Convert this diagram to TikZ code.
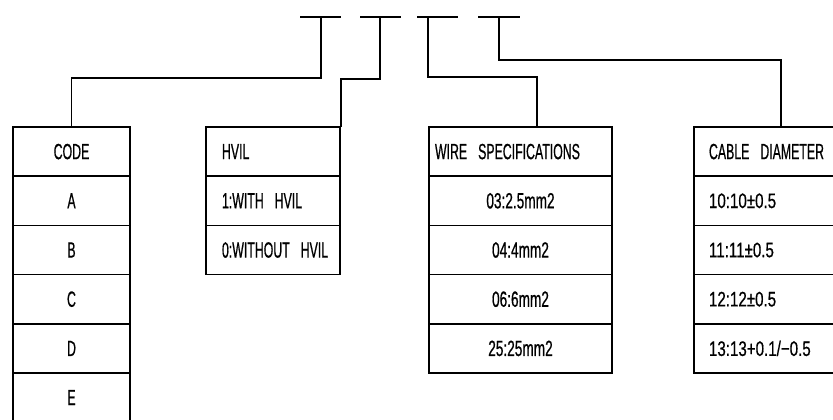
\documentclass[tikz,border=0pt]{standalone}
\usepackage{fontspec}
\setmainfont{Liberation Sans}[FakeStretch=0.56,FakeBold=0.6]
\newfontfamily\wirefont{Liberation Sans}[FakeStretch=0.62,FakeBold=0.6]
\newfontfamily\cablefont{Liberation Sans}[FakeStretch=0.72,FakeBold=0.6]
\begin{document}
\begin{tikzpicture}[x=1pt,y=-1pt,
  every node/.style={font=\fontsize{22}{24}\selectfont},
  ln/.style={line width=1.7pt,line cap=rect},
  cell/.style={draw,line width=1.7pt,rectangle,inner sep=0pt,minimum height=49.2pt},
  codecell/.style={cell,minimum width=117pt},
  hvilcell/.style={cell,minimum width=134pt,text width=102pt,align=left},
  wirecell/.style={cell,minimum width=183pt,text width=183pt,align=center,font=\wirefont\fontsize{22}{24}\selectfont},
  cablecell/.style={cell,minimum width=174pt,text width=144pt,align=left},
  cableval/.style={cablecell,font=\cablefont\fontsize{21}{24}\selectfont}]
\fill[white] (0,0) rectangle (833,420);
\useasboundingbox (0,0) rectangle (833,420);
% T-bars
\coordinate (t1) at (321,17);
\coordinate (t2) at (380,17);
\coordinate (t3) at (428,17);
\coordinate (t4) at (499,17);
\draw[ln] (301,17) -- (340,17);
\draw[ln] (361,17) -- (400,17);
\draw[ln] (418,17) -- (457,17);
\draw[ln] (479,17) -- (519,17);
% CODE box
\node[codecell] (code0) at (71.5,151.6) {CODE};
\node[codecell] (code1) at (71.5,200.8) {A};
\node[codecell] (code2) at (71.5,250.0) {B};
\node[codecell] (code3) at (71.5,299.2) {C};
\node[codecell] (code4) at (71.5,348.4) {D};
\node[codecell] (code5) at (71.5,397.6) {E};
% HVIL box
\node[hvilcell] (hvil0) at (273,151.6) {HVIL};
\node[hvilcell] (hvil1) at (273,200.8) {1:WITH\enspace HVIL};
\node[hvilcell] (hvil2) at (273,250.0) {0:WITHOUT\enspace HVIL};
% WIRE box
\node[cell,minimum width=183pt,text width=171pt,align=left] (wire0) at (520.5,151.6) {WIRE\enspace SPECIFICATIONS};
\node[wirecell] (wire1) at (520.5,200.8) {03:2.5mm2};
\node[wirecell] (wire2) at (520.5,250.0) {04:4mm2};
\node[wirecell] (wire3) at (520.5,299.2) {06:6mm2};
\node[wirecell] (wire4) at (520.5,348.4) {25:25mm2};
% CABLE box
\node[cablecell] (cable0) at (781,151.6) {CABLE\enspace DIAMETER};
\node[cableval] (cable1) at (781,200.8) {10:10±0.5};
\node[cableval] (cable2) at (781,250.0) {11:11±0.5};
\node[cableval] (cable3) at (781,299.2) {12:12±0.5};
\node[cableval] (cable4) at (781,348.4) {13:13+0.1/−0.5};
% connectors
\draw[ln] (t1) -- ++(0,61) -| (code0.north);
\draw[ln] (t2) -- ++(0,62) -| (hvil0.north east);
\draw[ln] (t3) -- ++(0,60) -| ([xshift=16.5pt]wire0.north);
\draw[ln] (t4) -- ++(0,43) -| (cable0.north);
\end{tikzpicture}
\end{document}
